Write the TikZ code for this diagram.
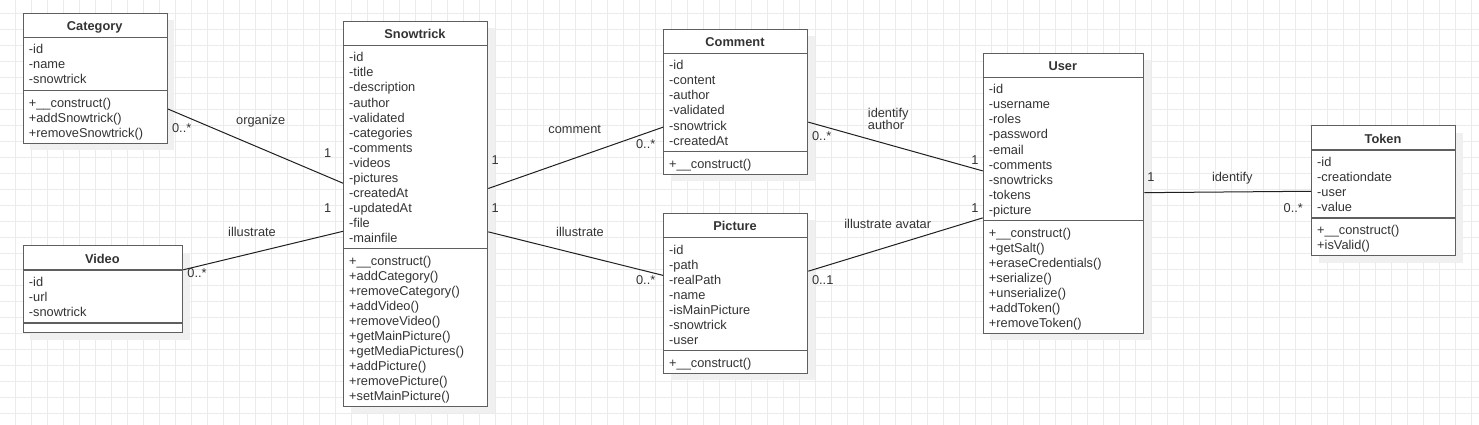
\documentclass[tikz,border=0pt]{standalone}
\usepackage{fontspec}
\setmainfont{Liberation Sans}
\usetikzlibrary{shadows}
\definecolor{gridc}{HTML}{EBEBEB}
\definecolor{boxc}{HTML}{5F5F5F}
\definecolor{txtc}{HTML}{333333}
\tikzset{
  classbox/.style={draw=boxc, line width=1.3pt, fill=white, rectangle, inner sep=0pt, anchor=north west,
    drop shadow={shadow xshift=7pt, shadow yshift=-7pt, fill=black!6, opacity=1}},
  sepline/.style={draw=boxc, line width=1.3pt},
  member/.style={anchor=base west, inner sep=0pt, text=txtc, font=\fontsize{12.8}{15}\selectfont},
  classtitle/.style={anchor=base, inner sep=0pt, text=txtc, font=\fontsize{12.8}{15}\selectfont\bfseries},
  assoc/.style={draw=black!88, line width=1pt},
  lbl/.style={anchor=base, inner sep=0pt, text=txtc, font=\fontsize{12.8}{15}\selectfont},
  gridline/.style={draw=gridc, line width=1pt},
}
% #1 name, #2 x, #3 y, #4 width, #5 title, #6 n attrs, #7 attrs, #8 n methods, #9 methods
\newcommand{\umlclass}[9]{%
  \pgfmathsetmacro{\hA}{#6*15+8}%
  \pgfmathsetmacro{\hM}{ifthenelse(#8>0,#8*15+7,9)}%
  \pgfmathsetmacro{\hT}{25+\hA+\hM}%
  \node[classbox, minimum width=#4pt, minimum height=\hT pt] (#1) at (#2,#3) {};
  \draw[sepline] ({#2},{#3+25}) -- ({#2+#4},{#3+25});
  \draw[sepline] ({#2},{#3+25+\hA}) -- ({#2+#4},{#3+25+\hA});
  \node[classtitle] (#1-t) at ({#2+#4/2},{#3+18.2}) {#5};
  \foreach \mtext [count=\i] in {#7}
    \node[member] (#1-a\i) at ({#2+6},{#3+26.3+15*\i}) {\mtext};
  \ifnum#8>0
  \foreach \mtext [count=\i] in {#9}
    \node[member] (#1-m\i) at ({#2+6},{#3+26.3+\hA+15*\i}) {\mtext};
  \fi
}
\begin{document}
\begin{tikzpicture}[x=1pt,y=-1pt]
\useasboundingbox (0,0) rectangle (1479,425);
\fill[white] (0,0) rectangle (1479,425);
\foreach \gx in {0,...,91} \draw[gridline] ({15.3+16*\gx},0) -- ({15.3+16*\gx},425);
\foreach \gy in {0,...,25} \draw[gridline] (0,{13.3+16*\gy}) -- (1479,{13.3+16*\gy});

\umlclass{cat}{22.7}{12.7}{144}{Category}{3}{-id,-name,-snowtrick}{3}{+\_\_construct(),+addSnowtrick(),+removeSnowtrick()}
\umlclass{snow}{343}{20.7}{144}{Snowtrick}{13}{-id,-title,-description,-author,-validated,-categories,-comments,-videos,-pictures,-createdAt,-updatedAt,-file,-mainfile}{10}{+\_\_construct(),+addCategory(),+removeCategory(),+addVideo(),+removeVideo(),+getMainPicture(),+getMediaPictures(),+addPicture(),+removePicture(),+setMainPicture()}
\umlclass{video}{22.7}{245}{159.3}{Video}{3}{-id,-url,-snowtrick}{0}{}
\umlclass{comment}{663}{28.7}{144}{Comment}{6}{-id,-content,-author,-validated,-snowtrick,-createdAt}{1}{+\_\_construct()}
\umlclass{picture}{663}{212.7}{144}{Picture}{7}{-id,-path,-realPath,-name,-isMainPicture,-snowtrick,-user}{1}{+\_\_construct()}
\umlclass{user}{982.7}{52.7}{160.3}{User}{9}{-id,-username,-roles,-password,-email,-comments,-snowtricks,-tokens,-picture}{7}{+\_\_construct(),+getSalt(),+eraseCredentials(),+serialize(),+unserialize(),+addToken(),+removeToken()}
\umlclass{token}{1311}{125}{144}{Token}{4}{-id,-creationdate,-user,-value}{2}{+\_\_construct(),+isValid()}

% associations
\draw[assoc] (cat) -- (snow);
\draw[assoc] (video) -- (snow);
\draw[assoc] (snow) -- (comment);
\draw[assoc] (snow) -- (picture);
\draw[assoc] (comment) -- (user);
\draw[assoc] (picture) -- (user);
\draw[assoc] (user) -- (token);

% labels
\node[lbl] (l1) at (260.7,124.8) {organize};
\node[lbl] (l1a) at (181.7,132.5) {0..*};
\node[lbl] (l1b) at (327.7,157.2) {1};
\node[lbl] (l2) at (252,236.8) {illustrate};
\node[lbl] (l2a) at (197,277.2) {0..*};
\node[lbl] (l2b) at (327.7,212.8) {1};
\node[lbl] (l3) at (574.7,133.2) {comment};
\node[lbl] (l3a) at (645.7,148.8) {0..*};
\node[lbl] (l3b) at (495.3,164.8) {1};
\node[lbl] (l4) at (580,236.8) {illustrate};
\node[lbl] (l4a) at (645.7,284.5) {0..*};
\node[lbl] (l4b) at (495.3,212.8) {1};
\node[lbl, anchor=base west] (l5) at (867.7,117.2) {identify};
\node[lbl, anchor=base west] (l5x) at (867.7,129.8) {author};
\node[lbl] (l5a) at (821.7,140.8) {0..*};
\node[lbl] (l5b) at (975,164.8) {1};
\node[lbl] (l6) at (887.7,228.8) {illustrate avatar};
\node[lbl] (l6a) at (822.7,284.5) {0..1};
\node[lbl] (l6b) at (975,212.8) {1};
\node[lbl] (l7) at (1232.3,181.2) {identify};
\node[lbl] (l7a) at (1151,181.2) {1};
\node[lbl] (l7b) at (1293.3,212.8) {0..*};
\end{tikzpicture}
\end{document}
